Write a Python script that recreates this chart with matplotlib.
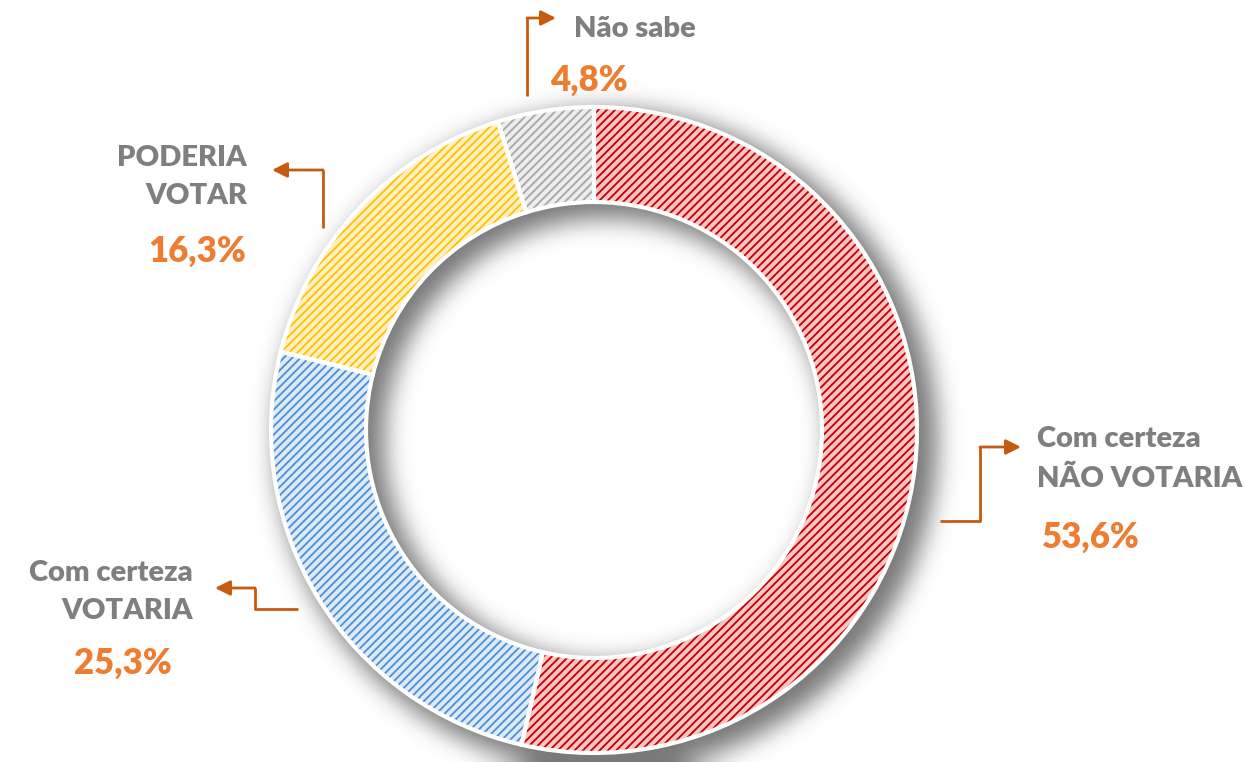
import numpy as np
import matplotlib
matplotlib.use('Agg')
from matplotlib import pyplot as plt

# dados
categorias = ['Com certeza\nNÃO VOTARIA', 'Com certeza\nVOTARIA', 'PODERIA\nVOTAR', 'Não sabe']
valores = [53.6, 25.3, 16.3, 4.8]
rotulos = ['53,6%', '25,3%', '16,3%', '4,8%']
cores_fundo = ['#FBC4C4', '#DCE9F7', '#FFF0C2', '#EDEDED']
cores_hachura = ['#C00000', '#4A8FD6', '#FFC000', '#A6A6A6']

W, H = 1244, 762
cx, cy = 594, 430
r_ext, r_int = 323, 228

plt.rcParams['font.family'] = ['Lato', 'DejaVu Sans']
plt.rcParams['hatch.linewidth'] = 1.3

fig = plt.figure(dpi=100, figsize=(W / 100, H / 100))
ax = fig.add_axes([0, 0, 1, 1])
ax.set_xlim(0, W)
ax.set_ylim(0, H)
ax.set_aspect('equal')
ax.axis('off')

def Y(y):
    return H - y

# sombra
yy, xx = np.mgrid[0:H, 0:W]
d = np.hypot(xx - (cx + 12), yy - (cy + 10))
mask = ((d <= r_ext + 8) & (d >= r_int - 6)).astype(float)
def blur(a, k):
    for _ in range(3):
        c = np.cumsum(np.pad(a, ((0, 0), (k + 1, k)), mode='edge'), axis=1)
        a = (c[:, 2 * k + 1:] - c[:, :-2 * k - 1]) / (2 * k + 1)
        c = np.cumsum(np.pad(a, ((k + 1, k), (0, 0)), mode='edge'), axis=0)
        a = (c[2 * k + 1:, :] - c[:-2 * k - 1, :]) / (2 * k + 1)
    return a
sh = blur(mask, 11)
img = np.zeros((H, W, 4))
img[..., :3] = 0.3
img[..., 3] = np.clip(sh * 0.75, 0, 1)
ax.imshow(img, extent=(0, W, 0, H), origin='upper', zorder=0)

centro = (cx, Y(cy))
ax.pie(valores, colors=cores_fundo, startangle=90, counterclock=False,
       radius=r_ext, center=centro, frame=True,
       wedgeprops=dict(width=r_ext - r_int, linewidth=0))
wedges, _ = ax.pie(valores, colors=['none'] * 4, startangle=90, counterclock=False,
                   radius=r_ext, center=centro, frame=True,
                   wedgeprops=dict(width=r_ext - r_int, linewidth=0))
for w, hc in zip(wedges, cores_hachura):
    w.set_hatch('////')
    w.set_edgecolor(hc)
    w.set_facecolor('none')
ax.pie(valores, colors=['none'] * 4, startangle=90, counterclock=False,
       radius=r_ext, center=centro, frame=True,
       wedgeprops=dict(width=r_ext - r_int, linewidth=3, edgecolor='white', facecolor='none'))
ax.set_xlim(0, W)
ax.set_ylim(0, H)
ax.axis('off')

cinza = '#7F7F7F'
laranja = '#ED7D31'
seta = '#C55A11'

def conector(pts):
    xs = [p[0] for p in pts]
    ys = [Y(p[1]) for p in pts]
    ax.plot(xs[:-1], ys[:-1], color=seta, lw=2, solid_capstyle='butt', zorder=5)
    ax.annotate('', xy=(xs[-1], ys[-1]), xytext=(xs[-2], ys[-2]),
                arrowprops=dict(arrowstyle='-|>,head_length=0.9,head_width=0.45',
                                color=seta, lw=2, shrinkA=0, shrinkB=0), zorder=5)

fs_cat, fs_val = 21, 25

# Não sabe
conector([(527, 96), (527, 18), (556, 18)])
ax.text(574, Y(29), categorias[3], color=cinza, fontsize=fs_cat, fontweight='heavy', ha='left', va='center')
ax.text(550, Y(80), rotulos[3], color=laranja, fontsize=fs_val, fontweight='heavy', ha='left', va='center')

# PODERIA VOTAR
conector([(323, 228), (323, 170), (272, 170)])
ax.text(247, Y(177), categorias[2], color=cinza, fontsize=fs_cat, fontweight='heavy', ha='right', va='center',
        linespacing=1.6)
ax.text(246, Y(251), rotulos[2], color=laranja, fontsize=fs_val, fontweight='heavy', ha='right', va='center')

# Com certeza NÃO VOTARIA
conector([(940, 521), (980, 521), (980, 447), (1021, 447)])
ax.text(1037, Y(459), categorias[0], color=cinza, fontsize=fs_cat, fontweight='heavy', ha='left', va='center',
        linespacing=1.65)
ax.text(1042, Y(537), rotulos[0], color=laranja, fontsize=fs_val, fontweight='heavy', ha='left', va='center')

# Com certeza VOTARIA
conector([(298, 609), (255, 609), (255, 588), (215, 588)])
ax.text(193, Y(592), categorias[1], color=cinza, fontsize=fs_cat, fontweight='heavy', ha='right', va='center',
        linespacing=1.55)
ax.text(123, Y(663), rotulos[1], color=laranja, fontsize=fs_val, fontweight='heavy', ha='center', va='center')

fig.savefig('out.png', dpi=100)
